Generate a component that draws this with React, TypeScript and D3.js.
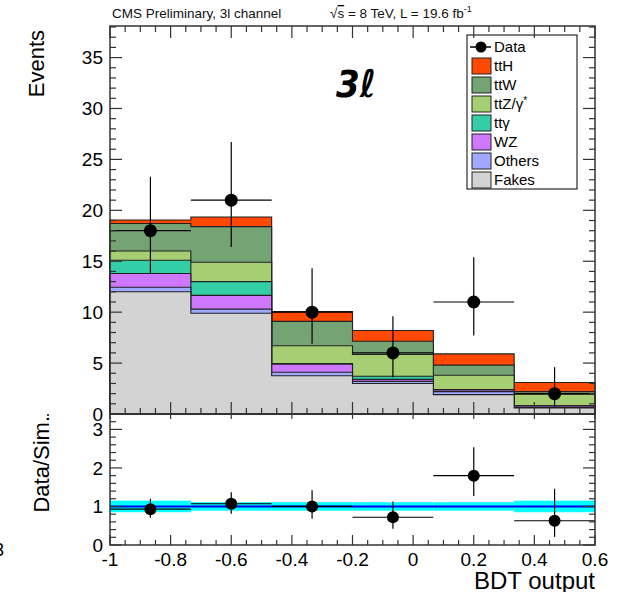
import React from 'react';
import * as d3 from 'd3';

// BDT output bins (6 bins between -1 and 0.6)
const binEdges = [-1, -0.7333, -0.4667, -0.2, 0.0667, 0.3333, 0.6];

// stacked backgrounds, bottom to top
const fakes = [12.0, 9.9, 3.75, 3.0, 1.9, 0.6];
const others = [0.45, 0.4, 0.35, 0.2, 0.3, 0.05];
const wz = [1.35, 1.35, 0.8, 0.2, 0.15, 0.15];
const ttgamma = [1.3, 1.35, 0.05, 0.3, 0.05, 0.02];
const ttz = [0.9, 1.9, 1.75, 2.15, 1.4, 1.13];
const ttw = [2.7, 3.5, 2.4, 1.3, 1.0, 0.25];
const tth = [0.35, 0.95, 0.95, 1.05, 1.1, 0.9];

const dataCounts = [18, 21, 10, 6, 11, 2];
const dataErrLow = [4.2, 4.6, 3.1, 2.4, 3.3, 1.3];
const dataErrHigh = [5.3, 5.7, 4.3, 3.6, 4.4, 2.6];

const ratioVals = [0.93, 1.07, 1.0, 0.72, 1.8, 0.63];
const ratioErrLow = [0.22, 0.26, 0.32, 0.3, 0.53, 0.42];
const ratioErrHigh = [0.27, 0.3, 0.42, 0.41, 0.74, 0.83];
const bandHalf = [0.15, 0.11, 0.11, 0.11, 0.11, 0.15];

const xTicks = [-1, -0.8, -0.6, -0.4, -0.2, 0, 0.2, 0.4, 0.6];
const yTicks = [0, 5, 10, 15, 20, 25, 30, 35];
const ratioTicks = [0, 1, 2, 3];

const layers = [
  { name: 'Fakes', vals: fakes, color: '#d3d3d3' },
  { name: 'Others', vals: others, color: '#a0a8ff' },
  { name: 'WZ', vals: wz, color: '#cd78ff' },
  { name: 'ttγ', vals: ttgamma, color: '#34cea6' },
  { name: 'ttZ/γ*', vals: ttz, color: '#a6ce72' },
  { name: 'ttW', vals: ttw, color: '#74a374' },
  { name: 'ttH', vals: tth, color: '#ff4800' },
];

const legendOrder = ['ttH', 'ttW', 'ttZ/γ*', 'ttγ', 'WZ', 'Others', 'Fakes'];

const W = 623;
const H = 592;
const left = 110;
const right = 595;
const mainTop = 26;
const mainBottom = 414;
const ratioBottom = 545;

const font = 'Liberation Sans, Arial, sans-serif';
const frameColor = '#333';

const App = () => {
  const x = d3.scaleLinear().domain([-1, 0.6]).range([left, right]);
  const y = d3.scaleLinear().domain([0, 38.1]).range([mainBottom, mainTop]);
  const yr = d3.scaleLinear().domain([0, 3.4]).range([ratioBottom, mainBottom]);

  // cumulative sums per layer
  const cumulative: number[][] = [];
  layers.forEach((l, i) => {
    cumulative.push(l.vals.map((v, b) => v + (i > 0 ? cumulative[i - 1][b] : 0)));
  });

  const stepArea = (tops: number[]) => {
    const pts = binEdges.map((e, i) => ({ e, v: tops[Math.min(i, tops.length - 1)] }));
    return d3
      .area<{ e: number; v: number }>()
      .x((d) => x(d.e))
      .y0(y(0))
      .y1((d) => y(d.v))
      .curve(d3.curveStepAfter)(pts) as string;
  };

  const centers = binEdges.slice(0, -1).map((e, i) => (e + binEdges[i + 1]) / 2);

  const minorX = d3.range(-1, 0.6001, 0.05);
  const minorY = d3.range(0, 38.01, 1);
  const minorR = d3.range(0, 3.401, 0.2);

  const tickLines: JSX.Element[] = [];
  // main panel x ticks (bottom + top)
  minorX.forEach((t, i) => {
    const major = Math.abs(t * 5 - Math.round(t * 5)) < 1e-6;
    const px = x(t);
    const len = major ? 12 : 6;
    tickLines.push(<line key={`mxb${i}`} x1={px} x2={px} y1={mainBottom} y2={mainBottom - len} />);
    tickLines.push(<line key={`mxt${i}`} x1={px} x2={px} y1={mainTop} y2={mainTop + len} />);
    tickLines.push(<line key={`rxb${i}`} x1={px} x2={px} y1={ratioBottom} y2={ratioBottom - (major ? 10 : 5)} />);
    if (major) tickLines.push(<line key={`rxt${i}`} x1={px} x2={px} y1={mainBottom} y2={mainBottom + 5} />);
  });
  minorY.forEach((t, i) => {
    const len = t % 5 === 0 ? 12 : 6;
    const py = y(t);
    tickLines.push(<line key={`myl${i}`} x1={left} x2={left + len} y1={py} y2={py} />);
    tickLines.push(<line key={`myr${i}`} x1={right} x2={right - len} y1={py} y2={py} />);
  });
  minorR.forEach((t, i) => {
    const major = Math.abs(t - Math.round(t)) < 1e-6;
    const len = major ? 12 : 6;
    const py = yr(t);
    tickLines.push(<line key={`ryl${i}`} x1={left} x2={left + len} y1={py} y2={py} />);
    tickLines.push(<line key={`ryr${i}`} x1={right} x2={right - len} y1={py} y2={py} />);
  });

  const legendX = 467;
  const legendY = 35;
  const rowH = 19;

  return (
    <svg width={W} height={H} style={{ position: 'absolute', left: 0, top: 0, background: 'white' }}>
      <rect x={0} y={0} width={W} height={H} fill="white" />

      {/* header */}
      <text x={112} y={18} fontFamily={font} fontSize={13.5} fill="#111">
        CMS Preliminary, 3l channel
      </text>
      <text x={330} y={18} fontFamily={font} fontSize={13.5} fill="#111">
        √<tspan textDecoration="overline">s</tspan> = 8 TeV, L = 19.6 fb
        <tspan fontSize={9} dy={-6}>-1</tspan>
      </text>

      {/* stacked histograms, drawn from the top layer down */}
      {layers
        .map((l, i) => ({ l, i }))
        .reverse()
        .map(({ l, i }) => (
          <path key={l.name} d={stepArea(cumulative[i])} fill={l.color} stroke="#222" strokeWidth={1.1} />
        ))}

      {/* data points */}
      {dataCounts.map((n, i) => (
        <g key={`d${i}`} stroke="#000" strokeWidth={1.2}>
          <line x1={x(binEdges[i])} x2={x(binEdges[i + 1])} y1={y(n)} y2={y(n)} />
          <line x1={x(centers[i])} x2={x(centers[i])} y1={y(n - dataErrLow[i])} y2={y(n + dataErrHigh[i])} />
          <circle cx={x(centers[i])} cy={y(n)} r={6.5} fill="#000" stroke="none" />
        </g>
      ))}

      {/* 3l label */}
      <text
        x={336}
        y={97}
        fontFamily="DejaVu Sans Condensed, DejaVu Sans"
        fontStyle="italic"
        fontWeight="bold"
        fontSize={38}
        fill="#000"
      >
        3ℓ
      </text>

      {/* legend */}
      <rect x={legendX} y={legendY} width={110} height={154} fill="white" stroke="#000" strokeWidth={1} />
      <g>
        <line x1={legendX + 3} x2={legendX + 24} y1={legendY + 12} y2={legendY + 12} stroke="#000" strokeWidth={1.5} />
        <circle cx={legendX + 14} cy={legendY + 12} r={5.5} fill="#000" />
        <text x={legendX + 27} y={legendY + 12} dy="0.36em" fontFamily={font} fontSize={15}>
          Data
        </text>
      </g>
      {legendOrder.map((name, k) => {
        const l = layers.find((d) => d.name === name)!;
        const cy = legendY + 12 + rowH * (k + 1);
        return (
          <g key={`lg${name}`}>
            <rect x={legendX + 5} y={cy - 8} width={19} height={16} fill={l.color} stroke="#222" strokeWidth={1} />
            <text x={legendX + 27} y={cy} dy="0.36em" fontFamily={font} fontSize={15}>
              {name === 'ttZ/γ*' ? (
                <>
                  ttZ/γ<tspan fontSize={10} dy={-5}>*</tspan>
                </>
              ) : (
                name
              )}
            </text>
          </g>
        );
      })}

      {/* ratio panel */}
      {bandHalf.map((h, i) => (
        <rect
          key={`band${i}`}
          x={x(binEdges[i])}
          width={x(binEdges[i + 1]) - x(binEdges[i])}
          y={yr(1 + h)}
          height={yr(1 - h) - yr(1 + h)}
          fill="#00ffff"
        />
      ))}
      <line x1={left} x2={right} y1={yr(1)} y2={yr(1)} stroke="#0000ee" strokeWidth={2} />
      {ratioVals.map((r, i) => (
        <g key={`r${i}`} stroke="#000" strokeWidth={1.2}>
          <line x1={x(binEdges[i])} x2={x(binEdges[i + 1])} y1={yr(r)} y2={yr(r)} />
          <line x1={x(centers[i])} x2={x(centers[i])} y1={yr(r - ratioErrLow[i])} y2={yr(r + ratioErrHigh[i])} />
          <circle cx={x(centers[i])} cy={yr(r)} r={6} fill="#000" stroke="none" />
        </g>
      ))}

      {/* frames and ticks */}
      <g stroke={frameColor} strokeWidth={1.2}>{tickLines}</g>
      <rect x={left} y={mainTop} width={right - left} height={mainBottom - mainTop} fill="none" stroke={frameColor} strokeWidth={1.5} />
      <rect x={left} y={mainBottom} width={right - left} height={ratioBottom - mainBottom} fill="none" stroke={frameColor} strokeWidth={1.5} />

      {/* tick labels */}
      {yTicks.map((t) => (
        <text key={`yl${t}`} x={103} y={y(t)} dy="0.36em" textAnchor="end" fontFamily={font} fontSize={19}>
          {t}
        </text>
      ))}
      {ratioTicks.map((t) => (
        <text key={`rl${t}`} x={103} y={yr(t)} dy="0.36em" textAnchor="end" fontFamily={font} fontSize={19}>
          {t}
        </text>
      ))}
      {xTicks.map((t) => (
        <text key={`xl${t}`} x={x(t)} y={566} textAnchor="middle" fontFamily={font} fontSize={19}>
          {d3.format('~g')(t).replace('−', '-')}
        </text>
      ))}

      {/* axis titles */}
      <text transform="translate(44,30) rotate(-90)" textAnchor="end" fontFamily={font} fontSize={22}>
        Events
      </text>
      <text transform="translate(49,416) rotate(-90)" textAnchor="end" fontFamily={font} fontSize={22}>
        Data/Sim.
      </text>
      <text x={595} y={589} textAnchor="end" fontFamily={font} fontSize={24}>
        BDT output
      </text>

      {/* stray marks at the left edge of the original image */}
      <text x={4} y={556} textAnchor="end" fontFamily={font} fontSize={18}>
        3
      </text>
      <circle cx={48} cy={415} r={1} fill="#000" />
    </svg>
  );
};

export default App;
